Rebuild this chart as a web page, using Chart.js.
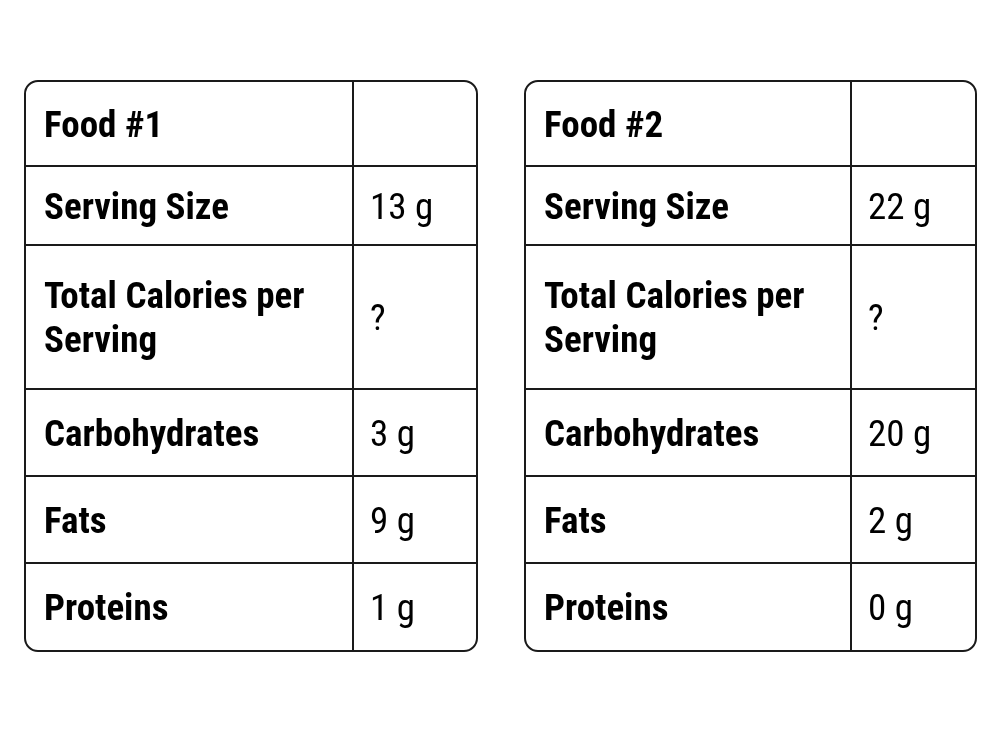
<!DOCTYPE html>
<html><head><meta charset="utf-8">
<script src="https://cdn.jsdelivr.net/npm/chart.js@4/dist/chart.umd.min.js"></script>
<style>html,body{margin:0;padding:0;background:#fff}#wrap{width:1000px;height:733px}</style>
</head><body><div id="wrap"><canvas id="c" width="1000" height="733"></canvas></div>
<script>
const rowLabels = ["Serving Size", "Total Calories per\nServing", "Carbohydrates", "Fats", "Proteins"];
const food1Title = "Food #1";
const food2Title = "Food #2";
const food1Values = ["13 g", "?", "3 g", "9 g", "1 g"];
const food2Values = ["22 g", "?", "20 g", "2 g", "0 g"];

const FONT = '"Liberation Sans Narrow", "Roboto Condensed", "DejaVu Sans Condensed", Arial, sans-serif';
const rowEdges = [81, 166, 245, 389, 476, 563, 651];

function rr(ctx, x, y, w, h, r) {
  ctx.beginPath();
  ctx.moveTo(x + r, y); ctx.lineTo(x + w - r, y); ctx.arcTo(x + w, y, x + w, y + r, r);
  ctx.lineTo(x + w, y + h - r); ctx.arcTo(x + w, y + h, x + w - r, y + h, r);
  ctx.lineTo(x + r, y + h); ctx.arcTo(x, y + h, x, y + h - r, r);
  ctx.lineTo(x, y + r); ctx.arcTo(x, y, x + r, y, r); ctx.closePath();
}

function drawTable(ctx, x0, x1, xd, title, values) {
  ctx.save();
  ctx.strokeStyle = "#1a1a1a"; ctx.lineWidth = 2;
  rr(ctx, x0, rowEdges[0], x1 - x0, rowEdges[6] - rowEdges[0], 13);
  ctx.stroke();
  ctx.beginPath();
  ctx.moveTo(xd, rowEdges[0]); ctx.lineTo(xd, rowEdges[6]);
  for (let i = 1; i < 6; i++) { ctx.moveTo(x0, rowEdges[i]); ctx.lineTo(x1, rowEdges[i]); }
  ctx.stroke();
  ctx.fillStyle = "#000"; ctx.textBaseline = "middle"; ctx.textAlign = "left";
  const labels = [title].concat(rowLabels);
  const vals = [""].concat(values);
  for (let i = 0; i < 6; i++) {
    const cy = (rowEdges[i] + rowEdges[i + 1]) / 2 + 4;
    const lines = labels[i].split("\n");
    ctx.font = "bold 37px " + FONT;
    lines.forEach((l, k) => ctx.fillText(l, x0 + 19, cy + (k - (lines.length - 1) / 2) * 44));
    ctx.font = "37px " + FONT;
    ctx.fillText(vals[i], xd + 17, cy);
  }
  ctx.restore();
}

const tablePlugin = {
  id: "tables",
  afterDraw(chart) {
    const ctx = chart.ctx;
    drawTable(ctx, 25, 477, 353, food1Title, food1Values);
    drawTable(ctx, 525, 976, 851, food2Title, food2Values);
  }
};

new Chart(document.getElementById("c"), {
  type: "bar",
  data: { labels: rowLabels, datasets: [{ data: [] }] },
  options: {
    responsive: false, animation: false, devicePixelRatio: 1,
    plugins: { legend: { display: false }, tooltip: { enabled: false } },
    scales: { x: { display: false }, y: { display: false } }
  },
  plugins: [tablePlugin]
});
</script></body></html>
